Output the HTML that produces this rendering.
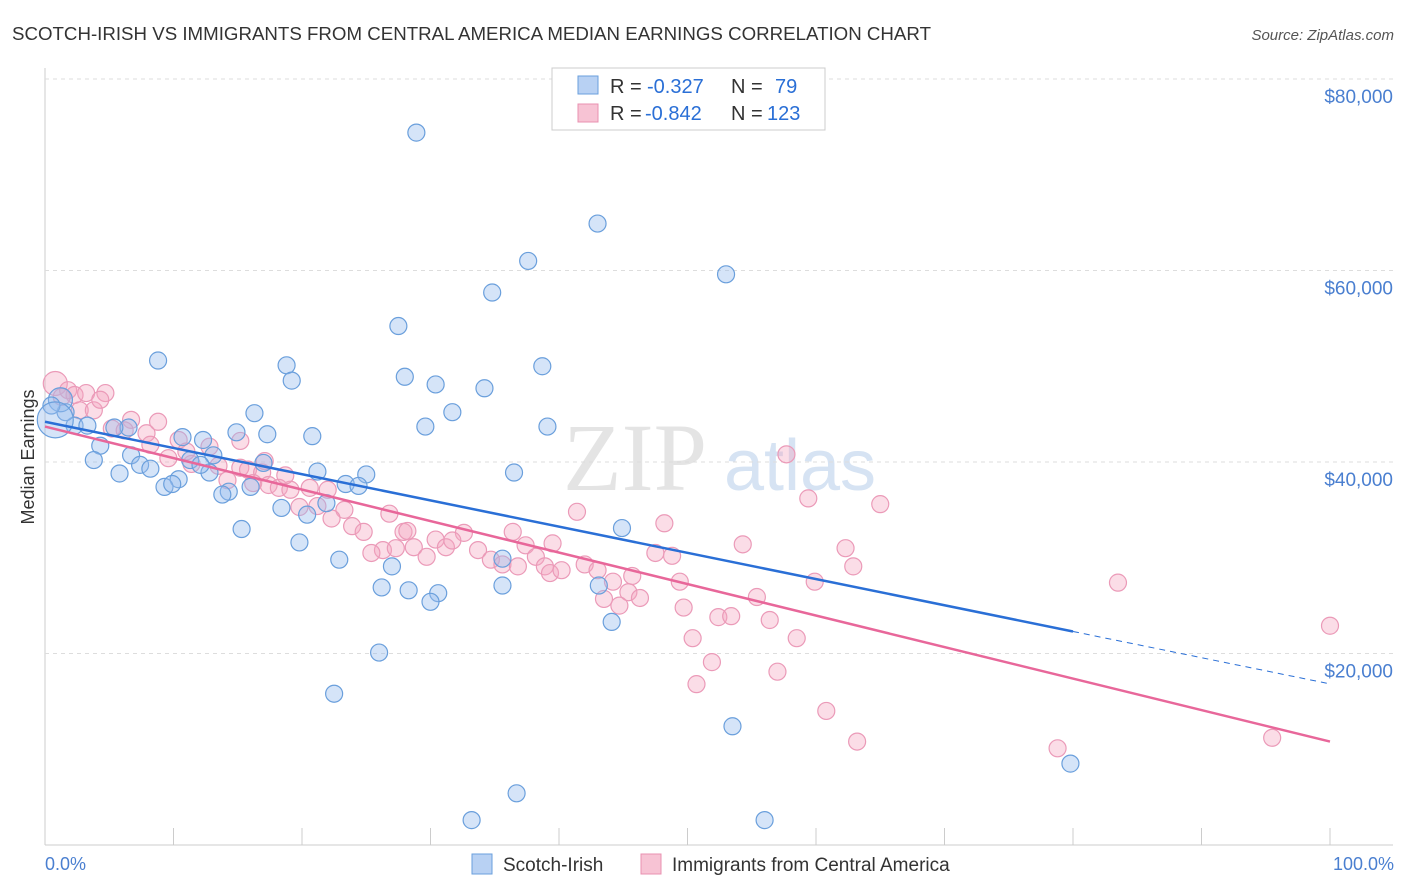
<!DOCTYPE html>
<html><head><meta charset="utf-8">
<style>
body{margin:0;background:#fff;font-family:"Liberation Sans",sans-serif;}
#wrap{position:relative;width:1406px;height:892px;overflow:hidden;}
</style></head>
<body>
<div id="wrap">
<svg id="svg" width="1406" height="892" xmlns="http://www.w3.org/2000/svg">
<text x="12" y="40" font-size="18" fill="#333" textLength="919" lengthAdjust="spacingAndGlyphs">SCOTCH-IRISH VS IMMIGRANTS FROM CENTRAL AMERICA MEDIAN EARNINGS CORRELATION CHART</text>
<text x="1394" y="40" font-size="15" fill="#555" font-style="italic" text-anchor="end">Source: ZipAtlas.com</text>
<text x="635" y="490" font-size="96" fill="#e4e4e4" font-family="Liberation Serif" text-anchor="middle">ZIP</text>
<text x="800" y="490" font-size="72" fill="#d6e3f3" text-anchor="middle">atlas</text>
<text transform="translate(34,457) rotate(-90)" font-size="18" fill="#333" text-anchor="middle">Median Earnings</text>
<g id="grid"></g><g id="pts"></g><g id="lines"></g>
<g>
<rect x="552" y="68" width="273" height="62" fill="#fff" stroke="#ccc"/>
<rect x="578" y="76" width="20" height="18" fill="#b8d1f3" stroke="#6a9fdc"/>
<rect x="578" y="104" width="20" height="18" fill="#f7c3d4" stroke="#e890b0"/>
<text x="610" y="93" font-size="20" fill="#333">R =</text>
<text x="647" y="93" font-size="20" fill="#2a6fd6">-0.327</text>
<text x="731" y="93" font-size="20" fill="#333">N =</text>
<text x="775" y="93" font-size="20" fill="#2a6fd6">79</text>
<text x="610" y="120" font-size="20" fill="#333">R =</text>
<text x="645" y="120" font-size="20" fill="#2a6fd6">-0.842</text>
<text x="731" y="120" font-size="20" fill="#333">N =</text>
<text x="767" y="120" font-size="20" fill="#2a6fd6">123</text>
</g>
<g>
<rect x="472" y="854" width="20" height="20" fill="#b8d1f3" stroke="#6a9fdc"/>
<text x="503" y="871" font-size="19" fill="#333">Scotch-Irish</text>
<rect x="641" y="854" width="20" height="20" fill="#f7c3d4" stroke="#e890b0"/>
<text x="672" y="871" font-size="19" fill="#333">Immigrants from Central America</text>
</g>
<text x="45" y="870" font-size="18" fill="#4a7fd0">0.0%</text>
<text x="1394" y="870" font-size="18" fill="#4a7fd0" text-anchor="end">100.0%</text>
</svg>
</div>
<script>
const yTicks=[20000,40000,60000,80000];
const yTickLabels=["$20,000","$40,000","$60,000","$80,000"];
const blueX=[28.9,43.0,37.6,53.0,34.8,27.5,8.8,18.8,38.7,28.0,19.2,30.4,34.2,31.7,16.3,29.6,39.1,14.9,17.3,20.8,10.7,12.3,6.5,5.4,2.3,3.3,1.6,1.2,0.5,4.3,3.8,6.7,7.4,8.2,17.0,21.2,25.0,23.4,24.4,36.5,5.8,10.4,9.3,9.9,16.0,14.3,13.8,18.4,20.4,21.9,15.3,44.9,19.8,35.6,22.9,27.0,26.2,28.3,30.6,30.0,35.6,43.1,44.1,26.0,22.5,53.5,79.8,36.7,33.2,56.0,12.8,11.3,13.1,0.8,12.1];
const blueY=[74400,64900,61000,59600,57700,54200,50600,50100,50000,48900,48500,48100,47700,45200,45100,43700,43700,43100,42900,42700,42600,42300,43600,43600,43800,43800,45200,46500,45900,41700,40200,40700,39700,39300,39900,39000,38700,37700,37500,38900,38800,38200,37400,37700,37400,36900,36600,35200,34500,35700,33000,33100,31600,29900,29800,29100,26900,26600,26300,25400,27100,27100,23300,20100,15800,12400,8500,5400,2600,2600,38900,40200,40700,44400,39700];
const pinkX=[0.8,1.8,2.3,3.2,4.7,2.7,3.8,4.3,1.3,6.7,8.8,5.2,6.2,7.9,10.4,12.8,9.6,11.4,13.5,15.2,15.8,16.9,14.2,16.2,17.4,18.2,19.1,20.6,22.0,19.8,21.2,23.3,22.3,23.9,24.8,26.8,27.9,26.3,25.4,27.3,28.7,28.2,29.7,30.4,31.2,32.6,31.7,33.7,34.7,36.4,37.4,35.6,36.8,38.2,38.9,39.3,40.2,39.5,41.4,42.0,43.0,44.2,45.7,45.4,43.5,44.7,46.3,47.5,48.2,48.8,49.4,49.7,50.4,50.7,51.9,52.4,53.4,54.3,55.4,56.4,57.0,57.7,58.5,59.4,59.9,60.8,62.3,62.9,63.2,65.0,78.8,83.5,95.5,100.0,8.2,11.0,15.2,17.1,18.7];
const pinkY=[48200,47500,47000,47200,47200,45400,45400,46500,46800,44400,44200,43500,43300,43000,42300,41600,40400,39800,39600,39400,39200,38900,38100,37800,37600,37300,37100,37300,37100,35300,35400,35000,34100,33300,32700,34600,32700,30800,30500,31000,31100,32800,30100,31900,31100,32600,31800,30800,29800,32700,31300,29300,29100,30100,29100,28400,28700,31500,34800,29300,28700,27500,28100,26400,25700,25000,25800,30500,33600,30200,27500,24800,21600,16800,19100,23800,23900,31400,25900,23500,18100,40800,21600,36200,27500,14000,31000,29100,10800,35600,10100,27400,11200,22900,41800,41100,42200,40100,38600];
const blueTrend=[44200,22300];
const pinkTrend=[43700,10800];
const X0=45,X1=1330,Y0=845,YPER=191.5/20000;
const sx=p=>X0+(X1-X0)*p/100, sy=v=>Y0-v*YPER;
const NS="http://www.w3.org/2000/svg";
function mk(t,a,parent){const e=document.createElementNS(NS,t);for(const k in a)e.setAttribute(k,a[k]);parent.appendChild(e);return e;}
const grid=document.getElementById('grid'),pts=document.getElementById('pts'),lines=document.getElementById('lines');
const ax=mk('line',{x1:45,y1:68,x2:45,y2:845,stroke:'#ccc'},grid);


const bx=mk('line',{x1:45,y1:845,x2:1393,y2:845,stroke:'#ccc'},grid);


for(let i=0;i<=10;i++){const t=mk('line',{x1:sx(i*10),y1:845,x2:sx(i*10),y2:828,stroke:'#ccc'},grid);

}
yTicks.forEach((v,i)=>{const g=mk('line',{x1:45,y1:sy(v),x2:1393,y2:sy(v),stroke:'#ddd','stroke-dasharray':'4,4'},grid);


const t=mk('text',{x:1393,y:sy(v)+24,'font-size':19,fill:'#4a7fd0','text-anchor':'end'},grid);t.textContent=yTickLabels[i];

});
const topg=mk('line',{x1:45,y1:79,x2:1393,y2:79,stroke:'#ddd','stroke-dasharray':'4,4'},grid);


pinkX.forEach((x,i)=>{const c=mk('circle',{cx:sx(x),cy:sy(pinkY[i]),r:i==0?12:8.5,fill:'rgba(245,165,192,0.38)',stroke:'#eb9ab8','stroke-width':1.2},pts);

});
blueX.forEach((x,i)=>{const c=mk('circle',{cx:sx(x),cy:sy(blueY[i]),r:i==73?18:(i==27?12:8.5),fill:'rgba(150,188,238,0.4)',stroke:'#6a9fdc','stroke-width':1.2},pts);

});
const bl=mk('line',{x1:sx(0),y1:sy(blueTrend[0]),x2:sx(80),y2:sy(blueTrend[1]),stroke:'#2a6fd6','stroke-width':2.5},lines);


const slope=(blueTrend[1]-blueTrend[0])/80;
const bd=mk('line',{x1:sx(80),y1:sy(blueTrend[1]),x2:sx(100),y2:sy(blueTrend[0]+slope*100),stroke:'#2a6fd6','stroke-width':1,'stroke-dasharray':'6,5'},lines);


const pl=mk('line',{x1:sx(0),y1:sy(pinkTrend[0]),x2:sx(100),y2:sy(pinkTrend[1]),stroke:'#e8679a','stroke-width':2.5},lines);


</script>
</body></html>
